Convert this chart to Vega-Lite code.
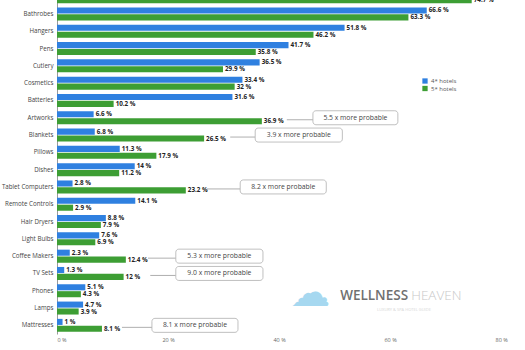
{
  "$schema": "https://vega.github.io/schema/vega-lite/v6.json",
  "width": 468,
  "height": 346,
  "autosize": "none",
  "padding": {"left": 57, "top": -12, "right": 0, "bottom": 16},
  "background": "white",
  "config": {"view": {"stroke": null}, "font": "Open Sans"},
  "datasets": {
    "bars": [
      {"cat": "Towels", "s": "4* hotels", "v": 77.4}, {"cat": "Towels", "s": "5* hotels", "v": 74.7},
      {"cat": "Bathrobes", "s": "4* hotels", "v": 66.6}, {"cat": "Bathrobes", "s": "5* hotels", "v": 63.3},
      {"cat": "Hangers", "s": "4* hotels", "v": 51.8}, {"cat": "Hangers", "s": "5* hotels", "v": 46.2},
      {"cat": "Pens", "s": "4* hotels", "v": 41.7}, {"cat": "Pens", "s": "5* hotels", "v": 35.8},
      {"cat": "Cutlery", "s": "4* hotels", "v": 36.5}, {"cat": "Cutlery", "s": "5* hotels", "v": 29.9},
      {"cat": "Cosmetics", "s": "4* hotels", "v": 33.4}, {"cat": "Cosmetics", "s": "5* hotels", "v": 32},
      {"cat": "Batteries", "s": "4* hotels", "v": 31.6}, {"cat": "Batteries", "s": "5* hotels", "v": 10.2},
      {"cat": "Artworks", "s": "4* hotels", "v": 6.6}, {"cat": "Artworks", "s": "5* hotels", "v": 36.9},
      {"cat": "Blankets", "s": "4* hotels", "v": 6.8}, {"cat": "Blankets", "s": "5* hotels", "v": 26.5},
      {"cat": "Pillows", "s": "4* hotels", "v": 11.3}, {"cat": "Pillows", "s": "5* hotels", "v": 17.9},
      {"cat": "Dishes", "s": "4* hotels", "v": 14}, {"cat": "Dishes", "s": "5* hotels", "v": 11.2},
      {"cat": "Tablet Computers", "s": "4* hotels", "v": 2.8}, {"cat": "Tablet Computers", "s": "5* hotels", "v": 23.2},
      {"cat": "Remote Controls", "s": "4* hotels", "v": 14.1}, {"cat": "Remote Controls", "s": "5* hotels", "v": 2.9},
      {"cat": "Hair Dryers", "s": "4* hotels", "v": 8.8}, {"cat": "Hair Dryers", "s": "5* hotels", "v": 7.9},
      {"cat": "Light Bulbs", "s": "4* hotels", "v": 7.6}, {"cat": "Light Bulbs", "s": "5* hotels", "v": 6.9},
      {"cat": "Coffee Makers", "s": "4* hotels", "v": 2.3}, {"cat": "Coffee Makers", "s": "5* hotels", "v": 12.4},
      {"cat": "TV Sets", "s": "4* hotels", "v": 1.3}, {"cat": "TV Sets", "s": "5* hotels", "v": 12},
      {"cat": "Phones", "s": "4* hotels", "v": 5.1}, {"cat": "Phones", "s": "5* hotels", "v": 4.3},
      {"cat": "Lamps", "s": "4* hotels", "v": 4.7}, {"cat": "Lamps", "s": "5* hotels", "v": 3.9},
      {"cat": "Mattresses", "s": "4* hotels", "v": 1}, {"cat": "Mattresses", "s": "5* hotels", "v": 8.1}
    ],
    "callouts": [
      {"cat": "Artworks", "t": 41.4, "x1": 46.1, "x2": 61.4, "txt": "5.5 x more probable"},
      {"cat": "Blankets", "t": 31.2, "x1": 35.7, "x2": 51.4, "txt": "3.9 x more probable"},
      {"cat": "Tablet Computers", "t": 27.0, "x1": 33.0, "x2": 48.5, "txt": "8.2 x more probable"},
      {"cat": "Coffee Makers", "t": 16.4, "x1": 21.4, "x2": 37.1, "txt": "5.3 x more probable"},
      {"cat": "TV Sets", "t": 16.8, "x1": 21.4, "x2": 37.1, "txt": "9.0 x more probable"},
      {"cat": "Mattresses", "t": 11.7, "x1": 17.1, "x2": 32.6, "txt": "8.1 x more probable"}
    ]
  },
  "encoding": {
    "y": {
      "field": "cat", "type": "nominal", "sort": null,
      "scale": {
        "domain": ["Towels","Bathrobes","Hangers","Pens","Cutlery","Cosmetics","Batteries","Artworks","Blankets","Pillows","Dishes","Tablet Computers","Remote Controls","Hair Dryers","Light Bulbs","Coffee Makers","TV Sets","Phones","Lamps","Mattresses"],
        "paddingInner": 0.25, "paddingOuter": 0.125
      },
      "axis": {"title": null, "ticks": false, "domain": true, "domainColor": "#9a9a9a", "labelFontSize": 6.2, "labelColor": "#444444", "labelPadding": 4, "labelFont": "Open Sans", "labelLimit": 60}
    }
  },
  "layer": [
    {
      "data": {"name": "bars"},
      "mark": {"type": "bar"},
      "encoding": {
        "x": {"field": "v", "type": "quantitative", "scale": {"domain": [0, 84.3], "nice": false, "zero": true},
          "axis": {"title": null, "values": [0, 20, 40, 60, 80], "labelExpr": "datum.value + ' %'", "grid": false, "ticks": false, "domain": false, "labelFontSize": 5.5, "labelColor": "#666666", "labelPadding": 3}},
        "yOffset": {"field": "s", "type": "nominal", "scale": {"paddingInner": 0.12}},
        "color": {"field": "s", "type": "nominal", "scale": {"domain": ["4* hotels", "5* hotels"], "range": ["#2f80e0", "#3d9e34"]},
          "legend": {"title": null, "orient": "none", "legendX": 365, "legendY": 90, "symbolType": "square", "symbolSize": 28, "labelFontSize": 6, "labelColor": "#555555", "rowPadding": 1.5, "symbolStrokeWidth": 0, "labelOffset": 3}}
      }
    },
    {
      "data": {"name": "bars"},
      "transform": [{"calculate": "format(datum.v, '.1~f') + ' %'", "as": "lab"}],
      "mark": {"type": "text", "align": "left", "baseline": "middle", "dx": 2, "fontSize": 6.3, "fontWeight": "bold", "color": "#222222"},
      "encoding": {
        "x": {"field": "v", "type": "quantitative"},
        "yOffset": {"field": "s", "type": "nominal"},
        "text": {"field": "lab"}
      }
    },
    {
      "data": {"name": "callouts"},
      "mark": {"type": "rule", "stroke": "#9a9a9a", "strokeWidth": 0.8, "yOffset": 2},
      "encoding": {
        "x": {"field": "t", "type": "quantitative"},
        "x2": {"field": "x1"}
      }
    },
    {
      "data": {"name": "callouts"},
      "mark": {"type": "bar", "size": 14, "fill": "white", "stroke": "#b0b0b0", "strokeWidth": 0.8, "cornerRadius": 3},
      "encoding": {
        "x": {"field": "x1", "type": "quantitative"},
        "x2": {"field": "x2"}
      }
    },
    {
      "data": {"name": "callouts"},
      "transform": [{"calculate": "(datum.x1 + datum.x2) / 2", "as": "mid"}],
      "mark": {"type": "text", "align": "center", "baseline": "middle", "fontSize": 6.8, "color": "#444444"},
      "encoding": {
        "x": {"field": "mid", "type": "quantitative"},
        "text": {"field": "txt"}
      }
    },
    {
      "data": {"values": [{"cat": "Phones", "x": 45.6, "t": "☁"}]},
      "mark": {"type": "text", "align": "center", "baseline": "middle", "dy": 3, "fontSize": 40, "color": "#a6d8f0", "font": "DejaVu Sans"},
      "encoding": {"x": {"field": "x", "type": "quantitative"}, "text": {"field": "t"}}
    },
    {
      "data": {"values": [{"cat": "Phones", "x": 51.0, "t": "WELLNESS"}]},
      "mark": {"type": "text", "align": "left", "baseline": "middle", "dy": 5, "fontSize": 13.5, "fontWeight": 600, "color": "#707070"},
      "encoding": {"x": {"field": "x", "type": "quantitative"}, "text": {"field": "t"}}
    },
    {
      "data": {"values": [{"cat": "Phones", "x": 63.8, "t": "HEAVEN"}]},
      "mark": {"type": "text", "align": "left", "baseline": "middle", "dy": 5, "fontSize": 13.5, "fontWeight": 300, "color": "#c8c8c8"},
      "encoding": {"x": {"field": "x", "type": "quantitative"}, "text": {"field": "t"}}
    },
    {
      "data": {"values": [{"cat": "Lamps", "x": 62.5, "t": "LUXURY & SPA HOTEL GUIDE"}]},
      "mark": {"type": "text", "align": "center", "baseline": "middle", "dy": 2, "fontSize": 4, "letterSpacing": 3.5, "color": "#d6d6d6"},
      "encoding": {"x": {"field": "x", "type": "quantitative"}, "text": {"field": "t"}}
    }
  ]
}
